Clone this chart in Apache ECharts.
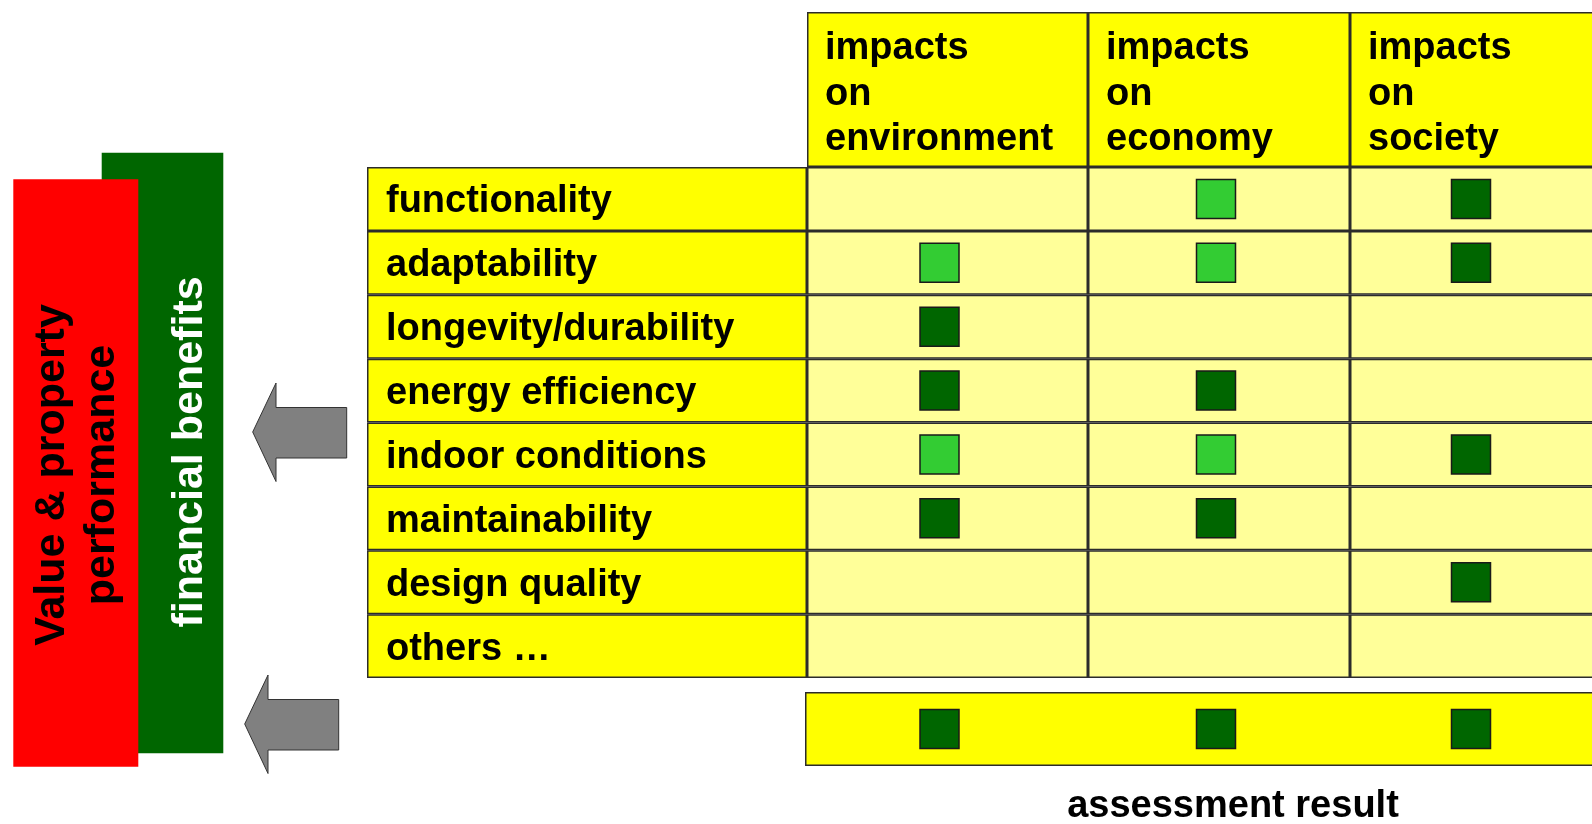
<!doctype html>
<html>
<head>
<meta charset="utf-8">
<title>impacts assessment</title>
<style>
html, body { margin: 0; padding: 0; background: #fff; overflow: hidden; }
#main { width: 1630px; height: 824px; }
</style>
</head>
<body>
<div id="main"></div>
<script src="https://cdn.jsdelivr.net/npm/echarts@6/dist/echarts.min.js"></script>
<script>
// rows and columns of the matrix
var rowNames = ['functionality', 'adaptability', 'longevity/durability', 'energy efficiency',
    'indoor conditions', 'maintainability', 'design quality', 'others …'];
var columnNames = ['impacts\non\nenvironment', 'impacts\non\neconomy', 'impacts\non\nsociety'];

// 0 = no mark, 1 = light green, 2 = dark green
var environment = [0, 1, 2, 2, 1, 2, 0, 0];
var economy = [1, 1, 0, 2, 1, 2, 0, 0];
var society = [2, 2, 0, 0, 2, 0, 2, 0];
var assessment = [2, 2, 2];

var impacts = [environment, economy, society];
var levelColors = [null, '#33CC33', '#006600'];

var myChart = echarts.init(document.getElementById('main'));
var font = 'Liberation Sans, Arial, sans-serif';
var lineColor = '#2b2b2b';

// the society column runs past the right edge of the picture
var colLeft = [807, 1088, 1350];
var colWidth = [281, 262, 262];
var markShift = [-8, -3, -10];

var grids = [], xAxes = [], yAxes = [], series = [];

function addGrid(box, cats) {
    var i = grids.length;
    grids.push(box);
    xAxes.push({gridIndex: i, type: 'value', min: 0, max: 1, show: false});
    yAxes.push({gridIndex: i, type: 'category', data: cats, inverse: true, show: false});
    return i;
}

function cellSeries(i, cats, fill, label) {
    return {
        type: 'bar', xAxisIndex: i, yAxisIndex: i,
        data: cats.map(function () { return 1; }),
        barWidth: '100%', silent: true,
        itemStyle: {color: fill, borderColor: lineColor, borderWidth: 1.5},
        label: label || {show: false}
    };
}

function markSeries(i, cats, levels, shift) {
    var pts = [];
    levels.forEach(function (lv, r) {
        if (lv > 0) pts.push({value: [0.5, cats[r]], itemStyle: {color: levelColors[lv]}});
    });
    return {
        type: 'scatter', xAxisIndex: i, yAxisIndex: i, z: 5, silent: true,
        symbol: 'rect', symbolSize: 39, symbolOffset: [shift, 0],
        itemStyle: {borderColor: '#1a1a1a', borderWidth: 1.5, opacity: 1},
        data: pts
    };
}

var textStyle = {show: true, formatter: '{b}', color: '#000', fontSize: 38, fontWeight: 'bold',
    fontFamily: font, textBorderWidth: 0};

// row label column
var g = addGrid({left: 367, top: 167, width: 440, height: 511}, rowNames);
series.push(cellSeries(g, rowNames, '#FFFF00',
    Object.assign({position: 'insideLeft', distance: 19, offset: [0, 3]}, textStyle)));

for (var c = 0; c < 3; c++) {
    // header cell
    var cat = [columnNames[c]];
    g = addGrid({left: colLeft[c], top: 12, width: colWidth[c], height: 155}, cat);
    series.push(cellSeries(g, cat, '#FFFF00',
        Object.assign({position: 'insideLeft', distance: 18, lineHeight: 45.5, offset: [0, 5]}, textStyle)));
    // body cells + marks
    g = addGrid({left: colLeft[c], top: 167, width: colWidth[c], height: 511}, rowNames);
    series.push(cellSeries(g, rowNames, '#FFFF99'));
    series.push(markSeries(g, rowNames, impacts[c], markShift[c]));
}

// assessment result bar
var resCat = ['assessment result'];
g = addGrid({left: 805, top: 692, width: 800, height: 74}, resCat);
series.push(cellSeries(g, resCat, '#FFFF00'));
for (c = 0; c < 3; c++) {
    g = addGrid({left: colLeft[c], top: 692, width: colWidth[c], height: 74}, resCat);
    series.push(markSeries(g, resCat, [assessment[c]], markShift[c]));
}

function arrow(dx, dy) {
    var pts = [[252.7, 432], [276, 383], [276, 407.5], [346.7, 407.5], [346.7, 458], [276, 458], [276, 481.5]];
    return {
        type: 'polygon', z: 10,
        shape: {points: pts.map(function (p) { return [p[0] + dx, p[1] + dy]; })},
        style: {fill: '#808080', stroke: '#333', lineWidth: 1}
    };
}

option = {
    animation: false,
    grid: grids,
    xAxis: xAxes,
    yAxis: yAxes,
    series: series,
    graphic: [
        {type: 'rect', z: 1, shape: {x: 101.7, y: 152.7, width: 121.6, height: 600.6}, style: {fill: '#006600'}},
        {type: 'rect', z: 2, shape: {x: 13.3, y: 179.3, width: 125, height: 587.4}, style: {fill: '#FF0000'}},
        {type: 'text', z: 3, x: 77, y: 475, rotation: Math.PI / 2,
            style: {text: 'Value & property\nperformance', fill: '#000', font: 'bold 43px ' + font,
                textAlign: 'center', textVerticalAlign: 'middle', lineHeight: 50}},
        {type: 'text', z: 3, x: 190, y: 452, rotation: Math.PI / 2,
            style: {text: 'financial benefits', fill: '#fff', font: 'bold 43px ' + font,
                textAlign: 'center', textVerticalAlign: 'middle'}},
        arrow(0, 0),
        arrow(-8, 292),
        {type: 'text', z: 3, x: 1233, y: 807,
            style: {text: 'assessment result', fill: '#000', font: 'bold 38px ' + font,
                textAlign: 'center', textVerticalAlign: 'middle'}}
    ]
};

myChart.setOption(option);
</script>
</body>
</html>
